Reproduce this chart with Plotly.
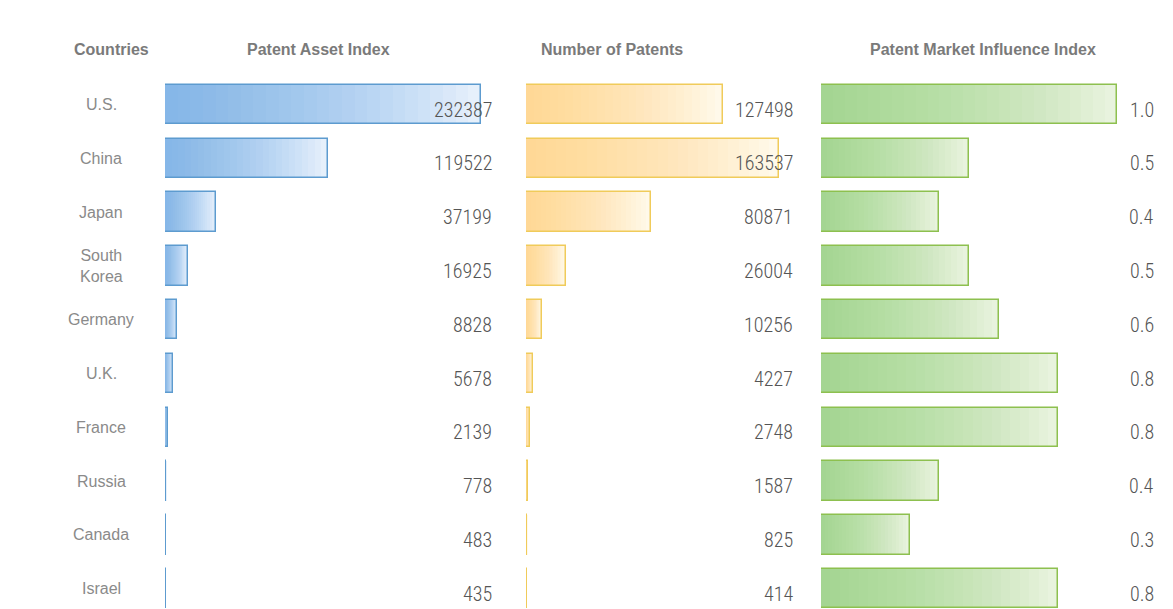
import plotly.graph_objects as go

countries = ["U.S.", "China", "Japan", "South<br>Korea", "Germany", "U.K.", "France", "Russia", "Canada", "Israel"]
patent_asset_index = [232387, 119522, 37199, 16925, 8828, 5678, 2139, 778, 483, 435]
number_of_patents = [127498, 163537, 80871, 26004, 10256, 4227, 2748, 1587, 825, 414]
market_influence = [1.0, 0.5, 0.4, 0.5, 0.6, 0.8, 0.8, 0.4, 0.3, 0.8]
headers = ["Countries", "Patent Asset Index", "Number of Patents", "Patent Market Influence Index"]

# the page body has an 8px default margin: work in page pixels, convert to figure pixels
OX, OY = 8, 8
PW, PH = 1173, 609
W, H = PW - OX, PH - OY


def px(xp):
    return (xp - OX) / W


fig = go.Figure()

panels = [
    dict(vals=patent_asset_index, fmt="{:d}", ax="x", x0=165, x1=497, ref=232387, refpx=316,
         light="rgba(230,240,251,1)", dark="rgba(95,170,228,{a})", line="#5d9bcf", lab=494),
    dict(vals=number_of_patents, fmt="{:d}", ax="x2", x0=526, x1=797, ref=163537, refpx=253,
         light="rgba(255,249,234,1)", dark="rgba(253,208,118,{a})", line="#f0cb5a", lab=795),
    dict(vals=market_influence, fmt="{:.1f}", ax="x3", x0=821, x1=1160, ref=1.0, refpx=296,
         light="rgba(232,243,222,1)", dark="rgba(150,200,110,{a})", line="#8dc04f", lab=1156),
]

fonts_num = "Roboto Condensed, Liberation Sans Narrow, Arial Narrow, sans-serif"
NL = 24
for i, p in enumerate(panels):
    fig.add_trace(go.Bar(y=countries, x=p["vals"], orientation="h", xaxis=p["ax"], yaxis="y",
                         marker=dict(color=p["light"], line=dict(width=0)),
                         width=0.73, hoverinfo="skip", showlegend=False))
    for k in range(1, NL + 1):
        f = k / (NL + 1)
        fig.add_trace(go.Bar(y=countries, x=[v * f for v in p["vals"]], orientation="h",
                             xaxis=p["ax"], yaxis="y",
                             marker=dict(color=p["dark"].format(a=0.042), line=dict(width=0)),
                             width=0.73, hoverinfo="skip", showlegend=False))
    fig.add_trace(go.Bar(y=countries, x=p["vals"], orientation="h", xaxis=p["ax"], yaxis="y",
                         marker=dict(color="rgba(0,0,0,0)", line=dict(color=p["line"], width=1.5)),
                         width=0.73, hoverinfo="skip", showlegend=False))
    for c, v in zip(countries, p["vals"]):
        fig.add_annotation(x=px(p["lab"]), xref="paper", y=c, yref="y", text=p["fmt"].format(v),
                           xanchor="right", yanchor="middle", showarrow=False, yshift=-5,
                           font=dict(family=fonts_num, size=20, color="#555555", weight=300))

for c in countries:
    fig.add_annotation(x=px(101), xref="paper", y=c, yref="y", text=c, xanchor="center",
                       yanchor="middle", showarrow=False,
                       font=dict(family="Liberation Sans, Arial, sans-serif", size=16, color="#8a8a8a"))

header_x = [111, 318, 612, 983]
for hx, t in zip(header_x, headers):
    fig.add_annotation(x=px(hx), xref="paper", y=1 - (50 - OY) / H, yref="paper", text=t,
                       xanchor="center", yanchor="middle", showarrow=False,
                       font=dict(family="Liberation Sans, Arial, sans-serif", size=16, color="#7a7a7a",
                                 weight="bold"))


def xa(p):
    span = p["x1"] - p["x0"]
    return dict(domain=[px(p["x0"]), px(p["x1"])], range=[0, p["ref"] * span / p["refpx"]],
                visible=False, fixedrange=True)


top_c, step = 104.5 - OY, 53.8
fig.update_layout(
    width=W, height=H, margin=dict(l=0, r=0, t=0, b=0),
    paper_bgcolor="white", plot_bgcolor="rgba(0,0,0,0)",
    barmode="overlay", bargap=0,
    xaxis=dict(**xa(panels[0]), anchor="y"),
    xaxis2=dict(**xa(panels[1]), anchor="y"),
    xaxis3=dict(**xa(panels[2]), anchor="y"),
    yaxis=dict(domain=[0, 1], type="category", categoryorder="array", categoryarray=countries,
               range=[(H - top_c) / step, -top_c / step], visible=False, fixedrange=True),
)

fig.write_html("out.html")
